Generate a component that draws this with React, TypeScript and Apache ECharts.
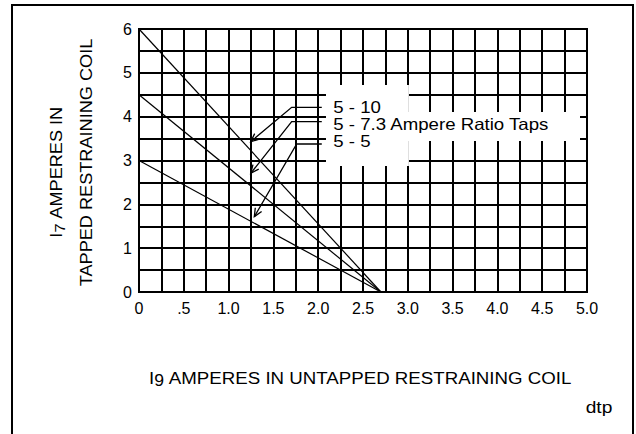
import React, { useEffect, useRef } from "react";
import * as echarts from "echarts";

// ---- axis ticks ----
const xTickValues = [0, 0.5, 1, 1.5, 2, 2.5, 3, 3.5, 4, 4.5, 5];
const xTickLabels = ["0", ".5", "1.0", "1.5", "2.0", "2.5", "3.0", "3.5", "4.0", "4.5", "5.0"];
const yTickValues = [0, 1, 2, 3, 4, 5, 6];
const yTickLabels = ["0", "1", "2", "3", "4", "5", "6"];

// ---- characteristic lines (I7 vs I9) ----
const tapNames = ["5 - 10", "5 - 7.3", "5 - 5"];
const tapI7AtZero = [6, 4.5, 3]; // I7 where I9 = 0
const tapI9AtZero = [2.7, 2.7, 2.7]; // I9 where I7 = 0

// ---- leader arrows (data units) ----
const arrowStartX = [2.04, 2.04, 2.04];
const arrowKneeX = [1.704, 1.704, 1.76];
const arrowLevelY = [4.214, 3.885, 3.376];
const arrowTipX = [1.247, 1.247, 1.287];
const arrowTipY = [3.429, 2.708, 1.718];

// ---- white label box (data units) ----
const boxX0 = [2.087, 2.087];
const boxX1 = [3.012, 4.922];
const boxY0 = [2.875, 3.445];
const boxY1 = [4.723, 4.107];

const FONT = "'Liberation Sans', Arial, Helvetica, sans-serif";

function fmtX(v: number): string {
  const idx = xTickValues.findIndex((t) => Math.abs(t - v) < 1e-6);
  return idx >= 0 ? xTickLabels[idx] : "";
}
function fmtY(v: number): string {
  const idx = yTickValues.findIndex((t) => Math.abs(t - v) < 1e-6);
  return idx >= 0 ? yTickLabels[idx] : "";
}

export default function App() {
  const ref = useRef<HTMLDivElement>(null);

  useEffect(() => {
    if (!ref.current) return;
    const chart = echarts.init(ref.current, undefined, { renderer: "svg" });

    const lineSeries = tapNames.map((name, i) => ({
      name,
      type: "line",
      data: [
        [0, tapI7AtZero[i]],
        [tapI9AtZero[i], 0],
      ],
      symbol: "none",
      lineStyle: { color: "#000", width: 1.2 },
      z: 5,
      silent: true,
    }));

    const boxData = boxX0.map((_, i) => [boxX0[i], boxY0[i], boxX1[i], boxY1[i]]);
    const arrowData = arrowStartX.map((_, i) => [
      arrowStartX[i],
      arrowKneeX[i],
      arrowLevelY[i],
      arrowTipX[i],
      arrowTipY[i],
    ]);

    const subRich = (size: number) => ({
      m: { fontSize: size, fontFamily: FONT, color: "#000", lineHeight: 22 },
      s: { fontSize: size - 1, fontFamily: FONT, color: "#000", lineHeight: 13, verticalAlign: "bottom" },
    });

    const annText = (text: string, y: number) => ({
      type: "text",
      x: 333.3,
      y,
      z: 200,
      scaleX: 1.13,
      style: {
        text,
        font: `16.5px ${FONT}`,
        fill: "#000",
        align: "left",
        verticalAlign: "middle",
        textAlign: "left",
        textVerticalAlign: "middle",
      },
    });

    const option: any = {
      animation: false,
      backgroundColor: "#fff",
      grid: {
        left: 139,
        top: 29,
        width: 448,
        height: 263,
        show: true,
        borderColor: "#000",
        borderWidth: 2,
        containLabel: false,
      },
      xAxis: {
        type: "value",
        min: 0,
        max: 5,
        interval: 0.25,
        axisLine: { show: true, lineStyle: { color: "#000", width: 2 } },
        axisTick: { show: false },
        splitLine: { show: true, lineStyle: { color: "#000", width: 2 } },
        axisLabel: {
          formatter: fmtX,
          color: "#000",
          fontSize: 16,
          fontFamily: FONT,
          margin: 8,
        },
      },
      yAxis: {
        type: "value",
        min: 0,
        max: 6,
        interval: 0.5,
        axisLine: { show: true, lineStyle: { color: "#000", width: 2 } },
        axisTick: { show: false },
        splitLine: { show: true, lineStyle: { color: "#000", width: 2 } },
        axisLabel: {
          formatter: fmtY,
          color: "#000",
          fontSize: 16,
          fontFamily: FONT,
          margin: 7,
        },
      },
      series: [
        {
          type: "custom",
          name: "labelBox",
          data: boxData,
          clip: false,
          silent: true,
          z: 3,
          renderItem: (_p: any, api: any) => {
            const a = api.coord([api.value(0), api.value(3)]);
            const b = api.coord([api.value(2), api.value(1)]);
            return {
              type: "rect",
              shape: { x: a[0], y: a[1], width: b[0] - a[0], height: b[1] - a[1] },
              style: { fill: "#fff", stroke: null },
            };
          },
        },
        ...lineSeries,
        {
          type: "custom",
          name: "arrows",
          data: arrowData,
          clip: false,
          silent: true,
          z: 6,
          renderItem: (_p: any, api: any) => {
            const e = api.coord([api.value(0), api.value(2)]);
            const k = api.coord([api.value(1), api.value(2)]);
            const t = api.coord([api.value(3), api.value(4)]);
            const ang = Math.atan2(t[1] - k[1], t[0] - k[0]);
            const L = 9;
            const h = 0.42;
            const p1 = [t[0] - L * Math.cos(ang - h), t[1] - L * Math.sin(ang - h)];
            const p2 = [t[0] - L * Math.cos(ang + h), t[1] - L * Math.sin(ang + h)];
            return {
              type: "group",
              children: [
                {
                  type: "polyline",
                  shape: { points: [e, k, t] },
                  style: { stroke: "#000", lineWidth: 1.3, fill: null },
                },
                {
                  type: "polyline",
                  shape: { points: [p1, t, p2] },
                  style: { stroke: "#000", lineWidth: 1.3, fill: null },
                },
              ],
            };
          },
        },
      ],
      graphic: {
        z: 200,
        elements: [
          {
            type: "rect",
            shape: { x: 12, y: 5, width: 621, height: 440 },
            style: { fill: null, stroke: "#000", lineWidth: 2 },
            silent: true,
          },
          {
            type: "text",
            x: 56,
            y: 172,
            rotation: Math.PI / 2,
            scaleX: 1.1,
            style: {
              text: "{m|I}{s|7}{m| AMPERES IN}",
              rich: subRich(16.5),
              align: "center",
              verticalAlign: "middle",
              textAlign: "center",
              textVerticalAlign: "middle",
            },
          },
          {
            type: "text",
            x: 86,
            y: 162.5,
            rotation: Math.PI / 2,
            scaleX: 1.1,
            style: {
              text: "TAPPED RESTRAINING COIL",
              font: `16.5px ${FONT}`,
              fill: "#000",
              align: "center",
              verticalAlign: "middle",
              textAlign: "center",
              textVerticalAlign: "middle",
            },
          },
          {
            type: "text",
            x: 360.5,
            y: 378,
            scaleX: 1.1,
            style: {
              text: "{m|I}{s|9}{m| AMPERES IN UNTAPPED RESTRAINING COIL}",
              rich: subRich(17),
              align: "center",
              verticalAlign: "middle",
              textAlign: "center",
              textVerticalAlign: "middle",
            },
          },
          {
            type: "text",
            x: 599,
            y: 407.7,
            scaleX: 1.2,
            style: {
              text: "dtp",
              font: `16px ${FONT}`,
              fill: "#000",
              align: "center",
              verticalAlign: "middle",
              textAlign: "center",
              textVerticalAlign: "middle",
            },
          },
          annText(tapNames[0], 107.5),
          annText(`${tapNames[1]} Ampere Ratio Taps`, 124),
          annText(tapNames[2], 141.3),
        ],
      },
    };

    chart.setOption(option);
    return () => {
      chart.dispose();
    };
  }, []);

  return (
    <div
      ref={ref}
      style={{ position: "fixed", left: 0, top: 0, width: 636, height: 434, background: "#fff" }}
    />
  );
}
